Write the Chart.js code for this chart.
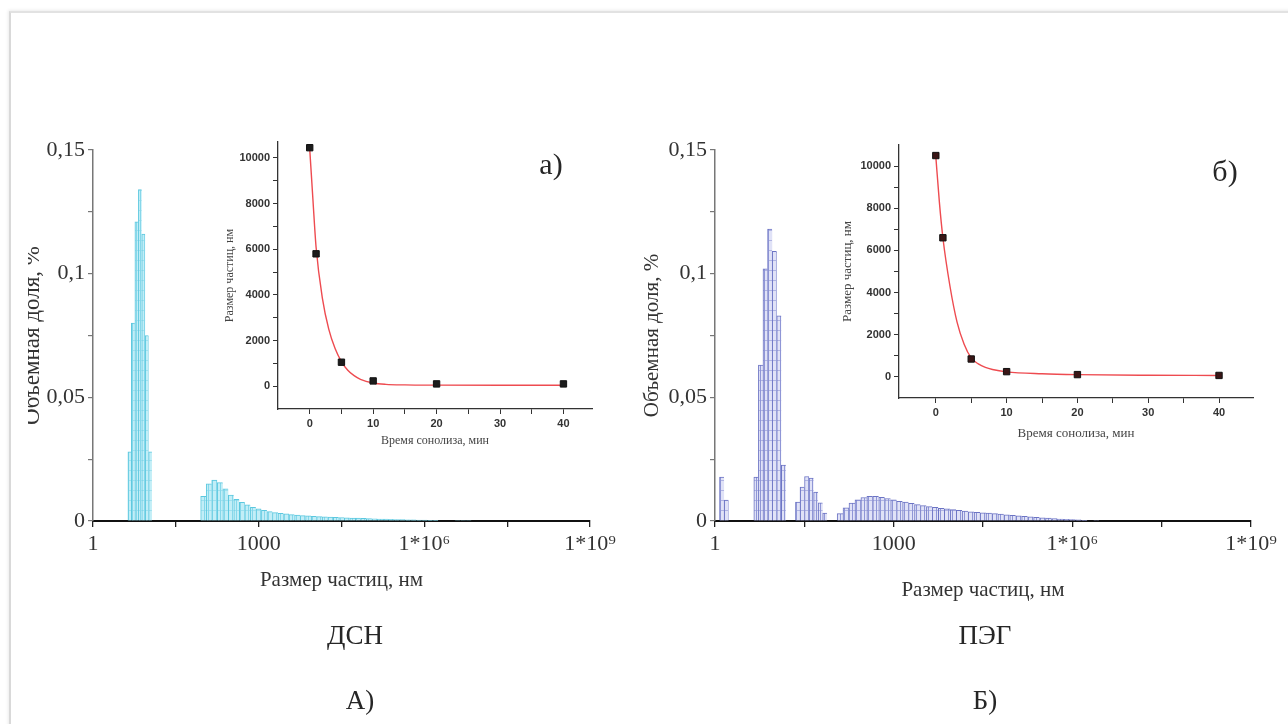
<!DOCTYPE html>
<html lang="ru">
<head>
<meta charset="UTF-8">
<title>Размер частиц и время сонолиза</title>
<script src="https://cdn.jsdelivr.net/npm/chart.js@4.4.1/dist/chart.umd.min.js"></script>
<style>
  html, body { margin: 0; padding: 0; background: #fff; }
  body { width: 1288px; height: 724px; position: relative; overflow: hidden; font-family: 'Liberation Serif', 'DejaVu Serif', serif; color: #262626; }
  .frame { position: absolute; left: 9px; top: 11px; width: 1400px; height: 900px; border-top: 2px solid #e2e2e2; border-left: 2px solid #d9d9d9; box-shadow: -1px -1px 3px rgba(0,0,0,0.08); }
  canvas { position: absolute; }
  .txt { position: absolute; transform: translate(-50%, -50%); white-space: nowrap; line-height: 1; }
</style>
</head>
<body>
<div class="frame"></div>
<canvas id="histA" width="612" height="520" style="left:28px;top:100px"></canvas>
<canvas id="histB" width="648" height="520" style="left:640px;top:100px"></canvas>
<canvas id="insetA" width="420" height="330" style="left:200px;top:130px"></canvas>
<canvas id="insetB" width="460" height="320" style="left:820px;top:130px"></canvas>
<div class="txt" style="left:551px;top:164px;font-size:30px">а)</div>
<div class="txt" style="left:1225px;top:171px;font-size:30px">б)</div>
<div class="txt" style="left:355px;top:635px;font-size:27px">ДСН</div>
<div class="txt" style="left:985px;top:635px;font-size:27px">ПЭГ</div>
<div class="txt" style="left:360px;top:700px;font-size:27px">А)</div>
<div class="txt" style="left:985px;top:700px;font-size:27px">Б)</div>
<script>
// ДСН: volume fraction (%) per size bin (nm)
const dsnPeakSize = [4.6, 5.3, 6.2, 7.1, 8.2, 9.5, 10.9]
const dsnPeakVol = [0.028, 0.080, 0.121, 0.134, 0.116, 0.075, 0.028]
const dsnTailSize = [100, 126, 158, 200, 251, 316, 398, 501, 631, 794,
  1000, 1259, 1585, 1995, 2512, 3162, 3981, 5012, 6310, 7943,
  1e4, 1.26e4, 1.58e4, 2.0e4, 2.51e4, 3.16e4, 3.98e4, 5.01e4, 6.31e4, 7.94e4,
  1e5, 1.26e5, 1.58e5, 2.0e5, 2.51e5, 3.16e5, 3.98e5, 5.01e5, 6.31e5, 7.94e5,
  1e6, 1.26e6, 1.58e6, 2.0e6, 2.51e6, 3.16e6, 3.98e6, 5.01e6, 6.31e6]
const dsnTailVol = [0.0100, 0.0150, 0.0165, 0.0155, 0.0130, 0.0105, 0.0088, 0.0075, 0.0065, 0.0055,
  0.0049, 0.0043, 0.0038, 0.0034, 0.0031, 0.0029, 0.0026, 0.0024, 0.0022, 0.0021,
  0.0019, 0.0018, 0.0017, 0.0016, 0.0015, 0.0014, 0.0013, 0.0012, 0.0012, 0.0011,
  0.0010, 0.0009, 0.0008, 0.0008, 0.0007, 0.0006, 0.0006, 0.0005, 0.0005, 0.0004,
  0.0004, 0.0003, 0.0003, 0.0002, 0.0002, 0.0002, 0.0001, 0.0001, 0.0001]

// ПЭГ
const pegSmallSize = [1.3, 1.55]
const pegSmallVol = [0.0178, 0.0085]
const pegPeakSize = [4.9, 5.85, 6.98, 8.34, 9.95, 11.9, 14.2]
const pegPeakVol = [0.0178, 0.063, 0.102, 0.118, 0.109, 0.083, 0.0226]
const pegMidSize = [24.5, 29.2, 34.8, 41.5, 49.4, 58.9, 70.1]
const pegMidVol = [0.0077, 0.0137, 0.018, 0.0174, 0.0117, 0.0073, 0.0032]
const pegBumpSize = [126, 158, 200, 251, 316, 398, 501, 631, 794,
  1000, 1259, 1585, 1995, 2512, 3162, 3981, 5012, 6310, 7943,
  1e4, 1.26e4, 1.58e4, 2.0e4, 2.51e4, 3.16e4, 3.98e4, 5.01e4, 6.31e4, 7.94e4,
  1e5, 1.26e5, 1.58e5, 2.0e5, 2.51e5, 3.16e5, 3.98e5, 5.01e5, 6.31e5, 7.94e5,
  1e6, 1.26e6, 1.58e6, 2.0e6, 2.51e6]
const pegBumpVol = [0.0030, 0.0053, 0.0072, 0.0086, 0.0095, 0.0100, 0.0100, 0.0096, 0.0091,
  0.0086, 0.0080, 0.0076, 0.0071, 0.0066, 0.0062, 0.0058, 0.0055, 0.0051, 0.0049,
  0.0046, 0.0043, 0.0040, 0.0037, 0.0035, 0.0033, 0.0032, 0.0030, 0.0028, 0.0025,
  0.0023, 0.0021, 0.0019, 0.0017, 0.0015, 0.0013, 0.0012, 0.0010, 0.0008, 0.0007,
  0.0006, 0.0005, 0.0003, 0.0002, 0.0001]

// insets: particle size (nm) vs sonolysis time (min)
const sonTime = [0, 1, 5, 10, 20, 40]
const dsnSonSize = [10450, 5800, 1050, 230, 100, 100]
const pegSonSize = [10500, 6600, 850, 250, 110, 70]
const dsnFitTime = [0, 0.5, 1, 2, 3, 4, 5, 6, 7, 8, 10, 12, 15, 20, 30, 40]
const dsnFitSize = [10400, 8200, 6100, 3850, 2500, 1650, 1080, 700, 460, 300, 140, 80, 55, 45, 40, 40]
const pegFitTime = [0, 0.5, 1, 2, 3, 4, 5, 6, 7, 8, 10, 15, 20, 30, 40]
const pegFitSize = [10450, 8300, 6600, 4300, 2600, 1550, 900, 620, 450, 350, 240, 150, 110, 80, 70]

// axis ticks
const sizeTicks = [1, 31.62, 1000, 31623, 1e6, 3.162e7, 1e9]
const sizeTickLabels = ['1', '', '1000', '', '1*10⁶', '', '1*10⁹']
const volTicks = [0, 0.025, 0.05, 0.075, 0.1, 0.125, 0.15]
const timeTicks = [0, 5, 10, 15, 20, 25, 30, 35, 40]
const nmTicks = [0, 1000, 2000, 3000, 4000, 5000, 6000, 7000, 8000, 9000, 10000]

const serif = "'Liberation Serif', 'DejaVu Serif', serif"
const sans = "'Liberation Sans', Arial, sans-serif"

function hatch(ctx, base, line) {
  const c = document.createElement('canvas')
  c.width = 4
  c.height = 10
  const g = c.getContext('2d')
  g.fillStyle = base
  g.fillRect(0, 0, 4, 10)
  g.fillStyle = line
  g.fillRect(0, 0, 1, 10)
  g.globalAlpha = 0.6
  g.fillRect(1, 0, 3, 1)
  return ctx.createPattern(c, 'repeat')
}

function volLabel(v) {
  if (Math.abs(v * 20 - Math.round(v * 20)) > 1e-6) return ''
  return String(+v.toFixed(2)).replace('.', ',')
}

function histogram(id, groups, fill, line, edge, box) {
  const ctx = document.getElementById(id).getContext('2d')
  const pattern = hatch(ctx, fill, line)
  return new Chart(ctx, {
    type: 'bar',
    data: {
      datasets: groups.map(([sizes, vols]) => ({
        data: sizes.map((x, i) => ({ x, y: vols[i] })),
        stack: 'h',
        backgroundColor: pattern,
        borderColor: edge,
        borderWidth: { top: 1, left: 1, right: 0, bottom: 0 },
        borderSkipped: 'start',
        barThickness: 'flex',
        categoryPercentage: 1,
        barPercentage: 1,
      })),
    },
    options: {
      responsive: false,
      animation: false,
      layout: { padding: { top: box.top, right: box.right, left: 0, bottom: 0 } },
      plugins: { legend: { display: false }, tooltip: { enabled: false } },
      scales: {
        x: {
          type: 'logarithmic',
          min: 1,
          max: 1e9,
          offset: false,
          afterBuildTicks: (s) => { s.ticks = sizeTicks.map((value) => ({ value })) },
          afterFit: (s) => { s.height = box.xh },
          border: { color: '#111', width: 2 },
          grid: { drawOnChartArea: false, offset: false, color: '#222', lineWidth: 1.3, tickLength: 6 },
          ticks: {
            autoSkip: false, maxRotation: 0, padding: 4, color: '#333',
            font: { family: serif, size: 22 },
            callback: (v, i) => sizeTickLabels[i],
          },
          title: {
            display: true, text: 'Размер частиц, нм', color: '#333',
            font: { family: serif, size: 21, lineHeight: 1 },
            padding: { top: 0, bottom: box.titleB },
          },
        },
        y: {
          min: 0,
          max: 0.15,
          afterBuildTicks: (s) => { s.ticks = volTicks.map((value) => ({ value })) },
          afterFit: (s) => { s.width = box.yw },
          border: { color: '#777', width: 1.5 },
          grid: { drawOnChartArea: false, color: '#777', lineWidth: 1.2, tickLength: 5 },
          ticks: { padding: 3, color: '#333', font: { family: serif, size: 22 }, callback: volLabel },
          title: {
            display: true, text: 'Объемная доля, %', color: '#333',
            font: { family: serif, size: box.yf, lineHeight: 1 },
            padding: { top: box.titleL, bottom: 0 },
          },
        },
      },
    },
  })
}

function inset(id, sizes, fitT, fitS, dot, box) {
  const ctx = document.getElementById(id).getContext('2d')
  const tickFont = { family: sans, size: 11, weight: 'bold' }
  return new Chart(ctx, {
    type: 'line',
    data: {
      datasets: [
        {
          data: sonTime.map((x, i) => ({ x, y: sizes[i] })),
          showLine: false,
          pointStyle: 'rect',
          pointRadius: 4.5,
          backgroundColor: dot,
          borderColor: '#111',
          borderWidth: 1,
        },
        {
          data: fitT.map((x, i) => ({ x, y: fitS[i] })),
          borderColor: '#ee4b50',
          borderWidth: 1.4,
          pointRadius: 0,
          cubicInterpolationMode: 'monotone',
          fill: false,
        },
      ],
    },
    options: {
      responsive: false,
      animation: false,
      layout: { padding: { top: box.top, right: box.right, left: 0, bottom: 0 } },
      plugins: { legend: { display: false }, tooltip: { enabled: false } },
      scales: {
        x: {
          type: 'linear',
          min: box.xmin,
          max: box.xmax,
          afterBuildTicks: (s) => { s.ticks = timeTicks.map((value) => ({ value })) },
          afterFit: (s) => { s.height = box.xh },
          border: { color: '#333', width: 1.3 },
          grid: { drawOnChartArea: false, color: '#333', lineWidth: 1, tickLength: 5 },
          ticks: { padding: 3, color: '#333', font: tickFont, callback: (v) => (v % 10 === 0 ? v : '') },
          title: {
            display: true, text: 'Время сонолиза, мин', color: '#444',
            font: { family: serif, size: box.tf, lineHeight: 1.2 },
            padding: { top: 0, bottom: box.titleB },
          },
        },
        y: {
          type: 'linear',
          min: -1000,
          max: box.ymax,
          afterBuildTicks: (s) => { s.ticks = nmTicks.map((value) => ({ value })) },
          afterFit: (s) => { s.width = box.yw },
          border: { color: '#333', width: 1.3 },
          grid: { drawOnChartArea: false, color: '#333', lineWidth: 1, tickLength: 5 },
          ticks: { padding: 3, color: '#333', font: tickFont, callback: (v) => (v % 2000 === 0 ? v : '') },
          title: {
            display: true, text: 'Размер частиц, нм', color: '#444',
            font: { family: serif, size: box.tf, lineHeight: 1.2 },
            padding: { top: box.titleL, bottom: 0 },
          },
        },
      },
    },
  })
}

histogram('histA', [[dsnPeakSize, dsnPeakVol], [dsnTailSize, dsnTailVol]],
  '#c2eef7', '#86d7ea', '#5cc8df',
  { top: 50, right: 50, xh: 99, yw: 65, titleB: 29.5, titleL: -6.5, yf: 23 })
histogram('histB', [[pegSmallSize, pegSmallVol], [pegPeakSize, pegPeakVol], [pegMidSize, pegMidVol], [pegBumpSize, pegBumpVol]],
  '#e0e2f7', '#8f96d6', '#6c74c4',
  { top: 50, right: 37, xh: 99, yw: 75, titleB: 19.5, titleL: 1.5, yf: 21 })

inset('insetA', dsnSonSize, dsnFitTime, dsnFitSize, '#1c1c1c',
  { top: 12, right: 28, xh: 51, yw: 78, xmin: -5, xmax: 44.5, ymax: 10700, tf: 12, titleB: 12, titleL: 23 })
inset('insetB', pegSonSize, pegFitTime, pegFitSize, '#3a1616',
  { top: 15, right: 27, xh: 52, yw: 79, xmin: -5.2, xmax: 44.8, ymax: 11000, tf: 13, titleB: 9, titleL: 20 })
</script>
</body>
</html>
